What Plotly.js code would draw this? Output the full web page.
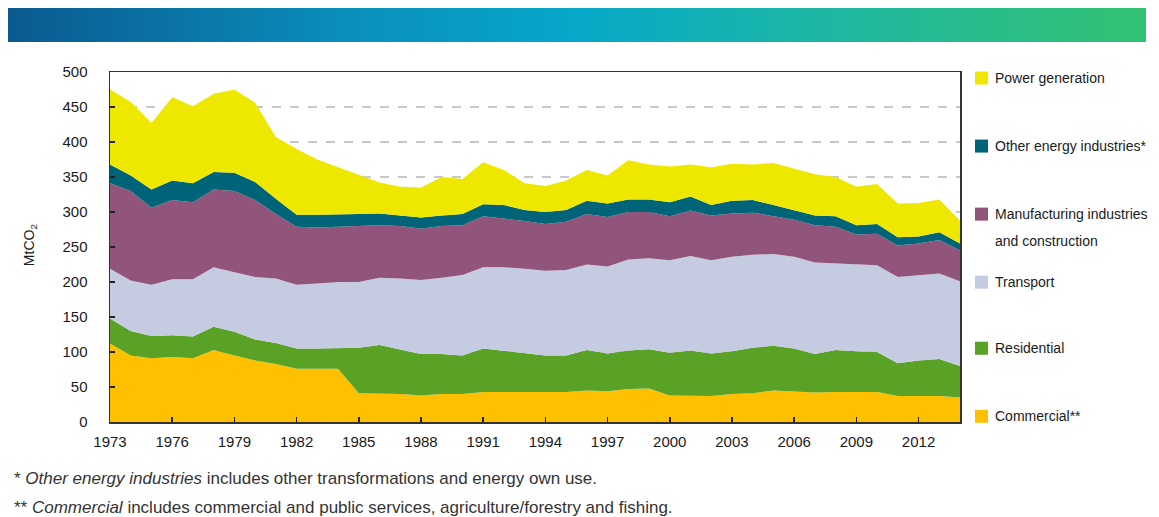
<!DOCTYPE html>
<html>
<head>
<meta charset="utf-8">
<script src="https://cdn.plot.ly/plotly-3.0.1.min.js"></script>
<style>
  html, body { margin: 0; padding: 0; background: #fff; }
  #wrap { position: relative; width: 1159px; height: 517px; overflow: hidden; }
  #chart { position: absolute; left: 0; top: 0; width: 1159px; height: 517px; }
  #banner { position: absolute; left: 8px; top: 8px; width: 1138px; height: 34px;
    background: linear-gradient(to right, #0b5a90 0%, #0a8fbb 30%, #07a8c9 50%, #1cb6a6 70%, #33c172 100%); z-index: 5; }
</style>
</head>
<body>
<div id="wrap">
  <div id="chart"></div>
  <div id="banner"></div>
</div>
<script>
const years = [1973,1974,1975,1976,1977,1978,1979,1980,1981,1982,1983,1984,1985,1986,1987,1988,1989,1990,1991,1992,1993,1994,1995,1996,1997,1998,1999,2000,2001,2002,2003,2004,2005,2006,2007,2008,2009,2010,2011,2012,2013,2014];

const commercial    = [112,95,91,93,91,103,95,88,83,76,76,76,41,41,40,38,40,40,43,43,43,42,43,45,44,47,48,38,38,37,40,41,45,43,42,43,43,43,37,37,37,35];
const residential   = [36,35,32,31,31,33,34,30,30,29,29,30,65,69,63,59,57,55,62,59,56,53,52,58,54,55,56,61,64,61,61,65,64,62,55,60,58,57,47,51,53,45];
const transport     = [71,72,73,80,82,85,85,89,92,91,93,94,94,96,102,106,109,115,116,119,120,121,122,122,124,130,130,132,135,133,135,133,131,131,131,124,124,124,123,122,122,121];
const manufacturing = [122,128,110,113,110,111,116,110,92,83,80,79,80,75,75,73,74,71,73,70,68,67,69,72,71,68,66,63,65,64,62,60,54,53,53,52,43,45,45,45,48,44];
const otherEnergy   = [27,22,26,28,27,25,26,26,22,17,18,17,17,17,15,16,15,16,17,19,16,17,17,19,19,18,18,20,20,15,18,18,16,14,14,15,13,14,12,10,11,10];
const power         = [107,105,95,119,110,112,119,113,88,94,79,68,55,44,41,43,55,50,60,50,38,37,42,44,40,56,50,51,46,54,53,51,60,59,59,56,55,57,48,48,47,33];

const seriesNames = ["Commercial**","Residential","Transport","Manufacturing industries","Other energy industries*","Power generation"];
const seriesData = [commercial, residential, transport, manufacturing, otherEnergy, power];
const seriesColors = ["#ffc000","#5aa225","#c5cbe0","#91547a","#006478","#eee800"];

const xTickVals = [1973,1976,1979,1982,1985,1988,1991,1994,1997,2000,2003,2006,2009,2012];
const yTickVals = [0,50,100,150,200,250,300,350,400,450,500];

const legendLabels = ["Power generation","Other energy industries*","Manufacturing industries","and construction","Transport","Residential","Commercial**"];

const labelFont = "'Liberation Sans', Arial, sans-serif";

const traces = seriesData.map((vals, i) => ({
  x: years, y: vals, name: seriesNames[i], type: "scatter", mode: "lines",
  stackgroup: "one", line: {width: 0, color: seriesColors[i]}, fillcolor: seriesColors[i],
  hoverinfo: "skip", showlegend: false
}));

// plot-area geometry (pixels)
const L = 110, R = 960, T = 72, B = 421.7, W = 1159, H = 517;
const px2x = p => (p - L) / (R - L);
const py2y = p => (B - p) / (B - T);

const shapes = [];
const annotations = [];
// manual legend
const legendItems = [
  {c: 5, y: 78, lines: [legendLabels[0]]},
  {c: 4, y: 146, lines: [legendLabels[1]]},
  {c: 3, y: 214, lines: [legendLabels[2], legendLabels[3]]},
  {c: 2, y: 282, lines: [legendLabels[4]]},
  {c: 1, y: 348, lines: [legendLabels[5]]},
  {c: 0, y: 416, lines: [legendLabels[6]]}
];
legendItems.forEach(it => {
  shapes.push({type: "rect", xref: "paper", yref: "paper",
    x0: px2x(975), x1: px2x(988), y0: py2y(it.y + 6.5), y1: py2y(it.y - 6.5),
    fillcolor: seriesColors[it.c], line: {width: 0}});
  it.lines.forEach((t, k) => {
    annotations.push({xref: "paper", yref: "paper", x: px2x(993), y: py2y(it.y + k * 27),
      xanchor: "left", yanchor: "middle", text: t, showarrow: false,
      font: {family: labelFont, size: 14, color: "#1a1a1a"}});
  });
});
// y-axis title
annotations.push({xref: "paper", yref: "paper", x: px2x(30), y: py2y(245), xanchor: "center", yanchor: "middle",
  text: "MtCO<sub>2</sub>", textangle: -90, showarrow: false, font: {family: labelFont, size: 14, color: "#1a1a1a"}});
// footnotes
annotations.push({xref: "paper", yref: "paper", x: px2x(12), y: py2y(478), xanchor: "left", yanchor: "middle",
  text: "* <i>Other energy industries</i> includes other transformations and energy own use.", showarrow: false,
  font: {family: labelFont, size: 17, color: "#333"}});
annotations.push({xref: "paper", yref: "paper", x: px2x(12), y: py2y(507), xanchor: "left", yanchor: "middle",
  text: "** <i>Commercial</i> includes commercial and public services, agriculture/forestry and fishing.", showarrow: false,
  font: {family: labelFont, size: 17, color: "#333"}});

const layout = {
  width: W, height: H,
  margin: {l: L, r: W - R, t: T, b: H - B, pad: 0},
  paper_bgcolor: "#fff", plot_bgcolor: "#fff",
  showlegend: false,
  xaxis: {range: [1973, 2014], tickvals: xTickVals, ticktext: xTickVals.map(String),
    ticks: "inside", ticklen: 5, tickcolor: "#222", tickwidth: 1.5,
    showline: true, linecolor: "#333", linewidth: 1.5, mirror: true,
    showgrid: false, zeroline: false, ticklabelstandoff: 5,
    tickfont: {family: labelFont, size: 15, color: "#1a1a1a"}},
  yaxis: {range: [0, 500], tickvals: yTickVals, ticktext: yTickVals.map(String),
    ticks: "inside", ticklen: 5, tickcolor: "#222", tickwidth: 1.5,
    showline: true, linecolor: "#333", linewidth: 1.5, mirror: true,
    showgrid: true, gridcolor: "#c8c8c8", griddash: "dash", gridwidth: 1.5,
    zeroline: false, ticklabelstandoff: 18,
    tickfont: {family: labelFont, size: 15, color: "#1a1a1a"}},
  shapes: shapes,
  annotations: annotations
};

Plotly.newPlot("chart", traces, layout, {staticPlot: true, displayModeBar: false});
</script>
</body>
</html>
